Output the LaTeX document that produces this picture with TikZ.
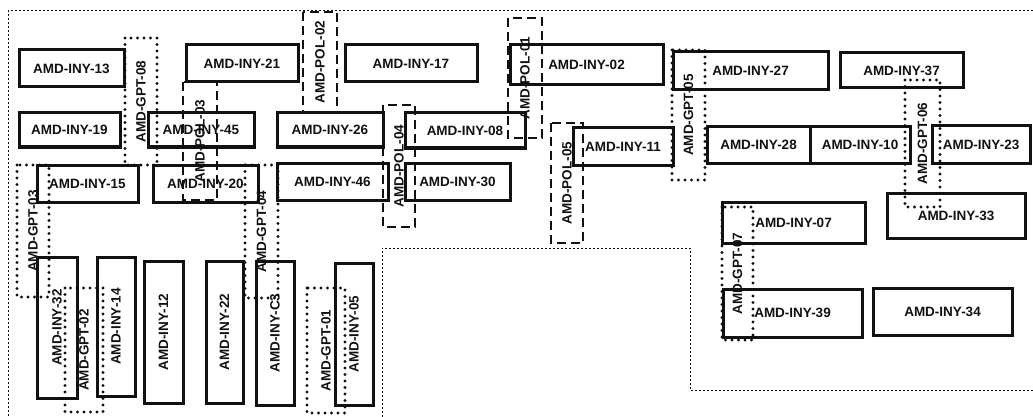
\documentclass[tikz,border=0pt]{standalone}
\usepackage{fontspec}
\setmainfont{Liberation Sans}
\usepackage{tikz}
\usetikzlibrary{positioning}
\usepackage{xcolor}
\definecolor{ink}{HTML}{111111}

\begin{document}
\begin{tikzpicture}[
  x=1pt, y=-1pt,
  n/.style={draw=ink, text=ink, inner sep=0pt, font=\fontsize{13.5}{15}\selectfont\bfseries},
  iny/.style={n, line width=3pt},
  gpt/.style={n, line width=3.3pt, line cap=round, dash pattern=on 0pt off 6.5pt},
  pol/.style={n, line width=2.8pt, dash pattern=on 9pt off 5pt},
  frame/.style={draw=ink, line width=1pt, dash pattern=on 2pt off 2pt}
]
\useasboundingbox (0,0) rectangle (1033,417);
\draw[frame] (1033,11) -- (8,11) -- (8,417);
\draw[frame] (382,417) -- (382,248) -- (690,248) -- (690,390) -- (1033,390);
\node[iny, minimum width=105, minimum height=37] (i13) at (71.5,68.5) {AMD-INY-13};
\node[iny, minimum width=112, minimum height=37] (i21) at (242,63.5) {AMD-INY-21};
\node[iny, minimum width=132, minimum height=37] (i17) at (411,63.5) {AMD-INY-17};
\node[iny, minimum width=153, minimum height=40] (i02) at (586.5,65) {AMD-INY-02};
\node[iny, minimum width=155, minimum height=38] (i27) at (750.5,71) {AMD-INY-27};
\node[iny, minimum width=123, minimum height=35] (i37) at (901.5,70.5) {AMD-INY-37};
\node[iny, minimum width=101, minimum height=34] (i19) at (69.5,130) {AMD-INY-19};
\node[iny, minimum width=106, minimum height=34] (i45) at (201,130) {AMD-INY-45};
\node[iny, minimum width=106, minimum height=34] (i26) at (330,130) {AMD-INY-26};
\node[iny, minimum width=120, minimum height=35] (i08) at (465,130.5) {AMD-INY-08};
\node[iny, minimum width=100, minimum height=37] (i11) at (623,146.5) {AMD-INY-11};
\node[iny, minimum width=103, minimum height=36] (i28) at (758.5,145) {AMD-INY-28};
\node[iny, minimum width=100, minimum height=36] (i10) at (860,145) {AMD-INY-10};
\node[iny, minimum width=98, minimum height=37] (i23) at (981,144.5) {AMD-INY-23};
\node[iny, minimum width=101, minimum height=37] (i15) at (87.5,183.5) {AMD-INY-15};
\node[iny, minimum width=105, minimum height=37] (i20) at (205.5,183.5) {AMD-INY-20};
\node[iny, minimum width=111, minimum height=37] (i46) at (332.5,181.5) {AMD-INY-46};
\node[iny, minimum width=105, minimum height=37] (i30) at (457.5,181.5) {AMD-INY-30};
\node[iny, minimum width=143, minimum height=41] (i07) at (793.5,222.5) {AMD-INY-07};
\node[iny, minimum width=138, minimum height=45] (i33) at (956,215.5) {AMD-INY-33};
\node[iny, minimum width=139, minimum height=48] (i39) at (792.5,313) {AMD-INY-39};
\node[iny, minimum width=139, minimum height=47] (i34) at (942.5,311.5) {AMD-INY-34};
\node[iny, rotate=90, minimum width=141, minimum height=40] (i32) at (57,327.5) {AMD-INY-32};
\node[iny, rotate=90, minimum width=139, minimum height=38] (i14) at (116,326.5) {AMD-INY-14};
\node[iny, rotate=90, minimum width=142, minimum height=39] (i12) at (163.5,332) {AMD-INY-12};
\node[iny, rotate=90, minimum width=142, minimum height=37] (i22) at (224.5,332) {AMD-INY-22};
\node[iny, rotate=90, minimum width=144, minimum height=38] (ic3) at (275,333) {AMD-INY-C3};
\node[iny, rotate=90, minimum width=142, minimum height=38] (i05) at (354,334) {AMD-INY-05};
\node[gpt, rotate=90, minimum width=127, minimum height=32] (g08) at (141,101.5) {AMD-GPT-08};
\node[gpt, rotate=90, minimum width=130, minimum height=33] (g05) at (688.5,115) {AMD-GPT-05};
\node[gpt, rotate=90, minimum width=127, minimum height=35] (g06) at (922.5,143.5) {AMD-GPT-06};
\node[gpt, rotate=90, minimum width=132, minimum height=32] (g03) at (33,231) {AMD-GPT-03};
\node[gpt, rotate=90, minimum width=133, minimum height=33] (g04) at (261.5,231.5) {AMD-GPT-04};
\node[gpt, rotate=90, minimum width=124, minimum height=38] (g02) at (84,350) {AMD-GPT-02};
\node[gpt, rotate=90, minimum width=125, minimum height=38] (g01) at (326,350.5) {AMD-GPT-01};
\node[gpt, rotate=90, minimum width=133, minimum height=31] (g07) at (737.5,273.5) {AMD-GPT-07};
\node[pol, rotate=90, minimum width=100, minimum height=34] (p02) at (320,62) {AMD-POL-02};
\node[pol, rotate=90, minimum width=120, minimum height=34] (p01) at (525,78) {AMD-POL-01};
\node[pol, rotate=90, minimum width=118, minimum height=34] (p03) at (200,141) {AMD-POL-03};
\node[pol, rotate=90, minimum width=122, minimum height=32] (p04) at (399,166) {AMD-POL-04};
\node[pol, rotate=90, minimum width=120, minimum height=32] (p05) at (567,183) {AMD-POL-05};
\end{tikzpicture}
\end{document}
